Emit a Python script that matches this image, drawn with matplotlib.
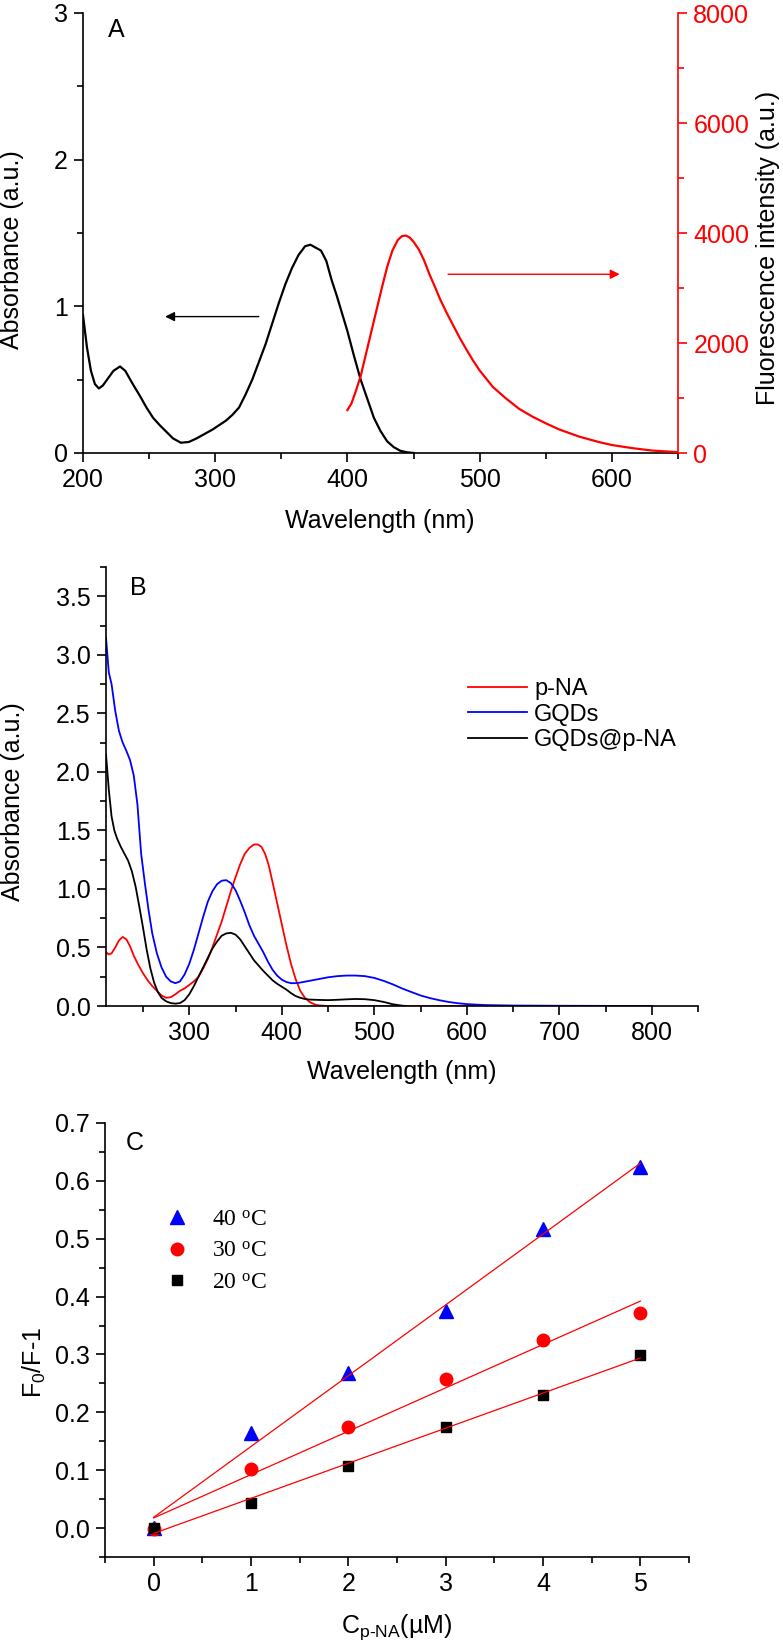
import numpy as np
import matplotlib
matplotlib.use('Agg')
import matplotlib.pyplot as plt
from matplotlib.ticker import MultipleLocator, FormatStrFormatter

plt.rcParams['font.family'] = ['Liberation Sans', 'DejaVu Sans']
plt.rcParams['font.size'] = 18
plt.rcParams['axes.linewidth'] = 1.2

# ---- panel A: absorbance (left) and fluorescence (right)
wl_abs_a = [200, 203, 206, 209, 212, 215, 219, 223, 228, 232, 237, 243, 248, 253, 258,
            263, 268, 274, 280, 286, 292, 298, 303, 308, 313, 318, 323, 328, 333, 338,
            343, 348, 353, 358, 363, 368, 372, 376, 380, 384, 388, 392, 396, 400, 405,
            410, 415, 420, 425, 430, 435, 440, 445, 450]
abs_a = [0.94, 0.72, 0.56, 0.47, 0.44, 0.46, 0.51, 0.56, 0.59, 0.56, 0.48, 0.39, 0.31, 0.24,
         0.19, 0.145, 0.10, 0.07, 0.075, 0.10, 0.13, 0.16, 0.19, 0.22, 0.26, 0.31, 0.40,
         0.50, 0.62, 0.74, 0.88, 1.02, 1.15, 1.26, 1.35, 1.41, 1.42, 1.40, 1.38, 1.31,
         1.18, 1.07, 0.95, 0.83, 0.66, 0.50, 0.37, 0.24, 0.15, 0.08, 0.04, 0.015, 0.005, 0.0]

wl_fl_a = [400, 403, 406, 410, 414, 418, 422, 426, 430, 434, 438, 441, 444, 447, 450, 454,
           458, 462, 466, 470, 475, 480, 485, 490, 495, 500, 510, 520, 530, 540, 550, 560,
           575, 590, 600, 615, 630, 650]
fl_a = [780, 900, 1100, 1400, 1800, 2200, 2600, 3000, 3380, 3680, 3870, 3940, 3955, 3920,
        3840, 3700, 3500, 3250, 3030, 2800, 2550, 2320, 2090, 1880, 1680, 1500, 1200, 990,
        800, 660, 540, 430, 300, 200, 145, 90, 45, 15]

# ---- panel B: absorbance spectra
wl_pna = [210, 213, 216, 220, 224, 228, 232, 236, 240, 245, 250, 255, 260, 265, 270, 275,
          280, 285, 290, 295, 300, 305, 310, 315, 320, 325, 330, 335, 340, 345, 350, 355,
          360, 365, 370, 374, 378, 382, 386, 390, 395, 400, 405, 410, 415, 420, 425, 430,
          435, 440, 450, 500, 600, 700, 800]
abs_pna = [0.46, 0.44, 0.45, 0.50, 0.56, 0.59, 0.57, 0.51, 0.43, 0.35, 0.28, 0.22, 0.17,
           0.13, 0.09, 0.07, 0.075, 0.10, 0.13, 0.15, 0.18, 0.21, 0.25, 0.32, 0.40, 0.50,
           0.61, 0.72, 0.85, 0.98, 1.10, 1.21, 1.30, 1.35, 1.38, 1.38, 1.36, 1.30, 1.20,
           1.06, 0.88, 0.70, 0.52, 0.36, 0.23, 0.13, 0.07, 0.035, 0.015, 0.005, 0.0, 0.0,
           0.0, 0.0, 0.0]

wl_gqd = [210, 213, 216, 220, 224, 228, 232, 236, 240, 244, 248, 252, 256, 260, 265, 270,
          275, 280, 285, 290, 295, 300, 305, 310, 315, 320, 325, 330, 335, 340, 345, 350,
          355, 360, 365, 370, 375, 380, 385, 390, 395, 400, 405, 410, 415, 420, 430, 440,
          450, 460, 470, 480, 490, 500, 510, 520, 530, 540, 550, 560, 570, 580, 590, 600,
          620, 650, 700, 750, 800]
abs_gqd = [3.15, 2.85, 2.75, 2.52, 2.35, 2.25, 2.18, 2.10, 1.97, 1.72, 1.30, 1.05, 0.82,
           0.62, 0.45, 0.33, 0.25, 0.21, 0.195, 0.21, 0.27, 0.36, 0.48, 0.62, 0.76, 0.89,
           0.98, 1.04, 1.07, 1.075, 1.05, 0.99, 0.90, 0.80, 0.69, 0.60, 0.53, 0.46, 0.38,
           0.31, 0.26, 0.225, 0.205, 0.195, 0.195, 0.20, 0.215, 0.23, 0.245, 0.255, 0.26,
           0.26, 0.255, 0.24, 0.215, 0.185, 0.15, 0.12, 0.09, 0.068, 0.05, 0.035, 0.024,
           0.016, 0.008, 0.004, 0.002, 0.001, 0.0]

wl_mix = [210, 213, 216, 219, 222, 226, 230, 234, 238, 242, 246, 250, 254, 258, 262, 266,
          270, 275, 280, 285, 290, 295, 300, 305, 310, 315, 320, 325, 330, 335, 340, 345,
          350, 355, 360, 365, 370, 375, 380, 385, 390, 395, 400, 405, 410, 415, 420, 425,
          430, 440, 450, 460, 470, 480, 490, 500, 510, 520, 530, 535]
abs_mix = [2.15, 1.85, 1.62, 1.50, 1.43, 1.36, 1.30, 1.24, 1.15, 1.02, 0.85, 0.67, 0.48,
           0.32, 0.20, 0.12, 0.07, 0.04, 0.025, 0.02, 0.025, 0.05, 0.10, 0.17, 0.25, 0.33,
           0.41, 0.49, 0.55, 0.60, 0.62, 0.625, 0.61, 0.57, 0.51, 0.45, 0.39, 0.345, 0.30,
           0.26, 0.22, 0.19, 0.165, 0.14, 0.11, 0.085, 0.07, 0.06, 0.055, 0.052, 0.05,
           0.053, 0.057, 0.06, 0.058, 0.05, 0.035, 0.015, 0.003, 0.0]

# ---- panel C: Stern-Volmer data
conc = [0, 1, 2, 3, 4, 5]
sv_40 = [0.0, 0.164, 0.268, 0.375, 0.516, 0.624]
sv_30 = [-0.002, 0.102, 0.174, 0.258, 0.325, 0.372]
sv_20 = [0.0, 0.043, 0.108, 0.174, 0.230, 0.299]

W, H = 783, 1648
fig = plt.figure(figsize=(W / 100, H / 100), dpi=100)


def frac(left, top, right, bottom):
    return [left / W, 1 - bottom / H, (right - left) / W, (bottom - top) / H]


def ftext(x, y, s, **kw):
    # place text by pixel centre in the figure
    kw.setdefault('ha', 'center')
    kw.setdefault('va', 'center')
    fig.text(x / W, 1 - y / H, s, **kw)


def style_ticks(ax, color='black'):
    ax.tick_params(which='major', direction='out', length=6.5, width=1.2, colors=color, pad=4.5)
    ax.tick_params(which='minor', direction='out', length=4.3, width=1.2, colors=color)


# Panel A
ax1 = fig.add_axes(frac(83, 13, 678, 453))
ax1.plot(wl_abs_a, abs_a, color='black', lw=1.6)
ax1.set_xlim(200, 650)
ax1.set_ylim(0, 3)
ax1.xaxis.set_major_locator(MultipleLocator(100))
ax1.xaxis.set_minor_locator(MultipleLocator(50))
ax1.yaxis.set_major_locator(MultipleLocator(1))
ax1.yaxis.set_minor_locator(MultipleLocator(0.5))
ax1.spines['top'].set_visible(False)
ax1.spines['right'].set_visible(False)
style_ticks(ax1)
ax1.annotate('', xy=(260, 0.93), xytext=(335, 0.93),
             arrowprops=dict(arrowstyle='-|>', color='black', lw=1.0, mutation_scale=14))

ax2 = ax1.twinx()
ax2.plot(wl_fl_a, fl_a, color='#ff0000', lw=1.6)
ax2.set_ylim(0, 8000)
ax2.yaxis.set_major_locator(MultipleLocator(2000))
ax2.yaxis.set_minor_locator(MultipleLocator(1000))
for s in ['top', 'left', 'bottom']:
    ax2.spines[s].set_visible(False)
ax2.spines['right'].set_color('#ff0000')
style_ticks(ax2, '#ff0000')
ax2.tick_params(axis='y', labelcolor='#ff0000')
ax2.annotate('', xy=(608, 3250), xytext=(474, 3250),
             arrowprops=dict(arrowstyle='-|>', color='#ff0000', lw=1.0, mutation_scale=14))

ftext(116, 30, 'A')
ftext(380, 521, 'Wavelength (nm)')
ftext(12, 250, 'Absorbance (a.u.)', rotation=90)
ftext(768, 248, 'Fluorescence intensity (a.u.)', rotation=90)

# Panel B
axb = fig.add_axes(frac(106, 567, 698, 1006))
axb.plot(wl_pna, abs_pna, color='#ff0000', lw=1.3, label='p-NA')
axb.plot(wl_gqd, abs_gqd, color='#0000ff', lw=1.3, label='GQDs')
axb.plot(wl_mix, abs_mix, color='black', lw=1.3, label='GQDs@p-NA')
axb.set_xlim(210, 850)
axb.set_ylim(0, 3.75)
axb.xaxis.set_major_locator(MultipleLocator(100))
axb.xaxis.set_minor_locator(MultipleLocator(50))
axb.yaxis.set_major_locator(MultipleLocator(0.5))
axb.yaxis.set_minor_locator(MultipleLocator(0.25))
axb.yaxis.set_major_formatter(FormatStrFormatter('%.1f'))
axb.spines['top'].set_visible(False)
axb.spines['right'].set_visible(False)
style_ticks(axb)
axb.legend(loc='upper left', bbox_to_anchor=(468 / W, 1 - 678 / H),
           bbox_transform=fig.transFigure, frameon=False, borderpad=0,
           borderaxespad=0, handlelength=2.5, handletextpad=0.3, labelspacing=0.15,
           fontsize=17)

ftext(138, 588, 'B')
ftext(402, 1072, 'Wavelength (nm)')
ftext(13, 802, 'Absorbance (a.u.)', rotation=90)

# Panel C
axc = fig.add_axes(frac(105, 1123, 689, 1557))
axc.plot(conc, sv_40, linestyle='none', marker='^', ms=9.5, color='#0000ff',
         label='40 $\\mathregular{^{o}}$C')
axc.plot(conc, sv_30, linestyle='none', marker='o', ms=9, color='#ff0000',
         label='30 $\\mathregular{^{o}}$C')
axc.plot(conc, sv_20, linestyle='none', marker='s', ms=7.5, color='black',
         label='20 $\\mathregular{^{o}}$C')
for ys in (sv_40, sv_30, sv_20):
    k, b = np.polyfit(conc, ys, 1)
    xs = np.array([conc[0], conc[-1]])
    axc.plot(xs, k * xs + b, color='#ff0000', lw=0.9)
axc.set_xlim(-0.5, 5.5)
axc.set_ylim(-0.05, 0.7)
axc.xaxis.set_major_locator(MultipleLocator(1))
axc.xaxis.set_minor_locator(MultipleLocator(0.5))
axc.yaxis.set_major_locator(MultipleLocator(0.1))
axc.yaxis.set_minor_locator(MultipleLocator(0.05))
axc.yaxis.set_major_formatter(FormatStrFormatter('%.1f'))
axc.spines['top'].set_visible(False)
axc.spines['right'].set_visible(False)
style_ticks(axc)
handles, labels = axc.get_legend_handles_labels()
axc.legend(handles[:3], labels[:3], loc='upper left', bbox_to_anchor=(165 / W, 1 - 1209 / H),
           bbox_transform=fig.transFigure, frameon=False, borderpad=0, borderaxespad=0,
           handlelength=1.0, handletextpad=1.0, labelspacing=0.42,
           prop={'family': 'Liberation Serif', 'size': 17})

ftext(135, 1143, 'C')
ftext(397, 1627, 'C$\\mathregular{_{p\u2010NA}}$(\u00b5M)')
ftext(34, 1362, 'F$\\mathregular{_0}$/F-1', rotation=90)

fig.savefig('out.png', dpi=100)
